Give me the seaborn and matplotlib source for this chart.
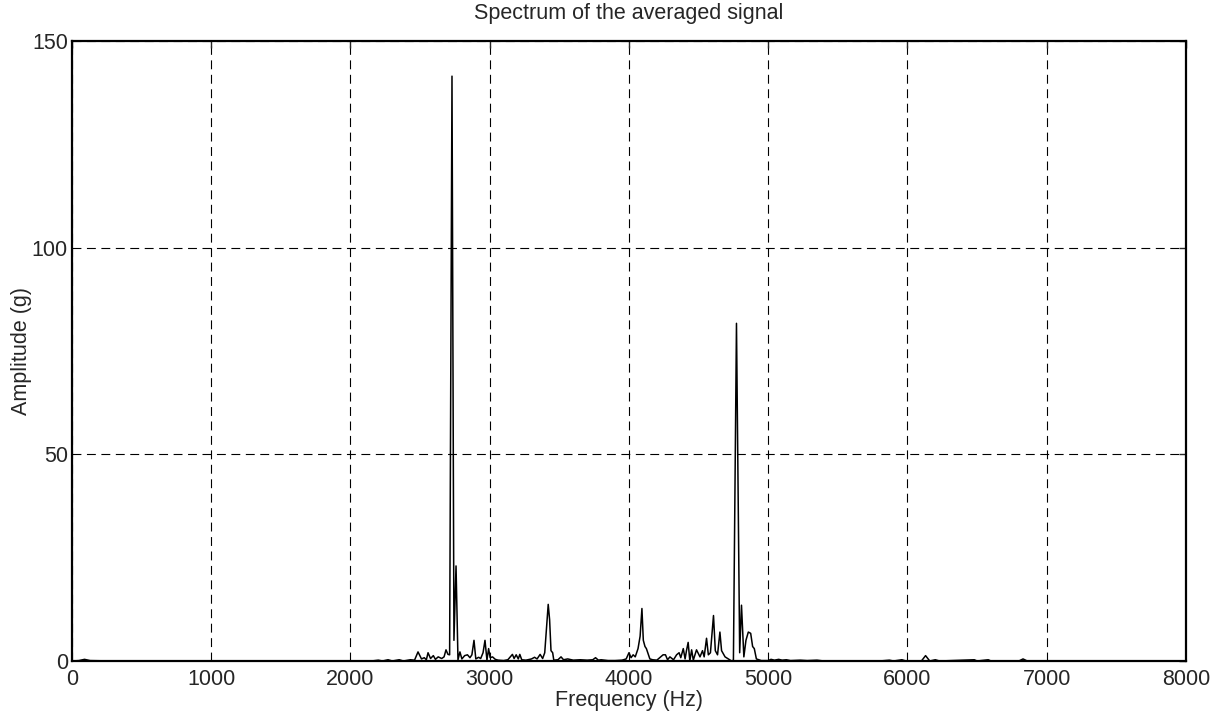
import numpy as np
import pandas as pd
import seaborn as sns
import matplotlib
matplotlib.use('Agg')
import matplotlib.pyplot as plt

# spectrum (Hz, g)
freq = [0, 50, 90, 130, 300, 2150, 2200, 2230, 2270, 2300, 2350, 2380, 2430, 2460,
        2485, 2510, 2530, 2545, 2557, 2575, 2595, 2610, 2630, 2655, 2672, 2686, 2700, 2712,
        2729, 2743, 2758, 2772, 2786, 2800, 2820, 2840, 2858, 2872, 2887, 2900, 2920, 2935,
        2952, 2966, 2980, 2992, 3003, 3020, 3040, 3060, 3100, 3130, 3163, 3175, 3190, 3205,
        3216, 3230, 3260, 3300, 3322, 3340, 3362, 3380, 3395, 3420, 3430, 3440, 3452, 3460,
        3490, 3512, 3530, 3560, 3600, 3650, 3700, 3740, 3760, 3780, 3800, 3850, 3900, 3950,
        3980, 4000, 4015, 4030, 4045, 4065, 4080, 4093, 4103, 4115, 4125, 4150, 4170, 4200,
        4245, 4262, 4277, 4294, 4320, 4342, 4360, 4372, 4390, 4403, 4413, 4425, 4437, 4450,
        4462, 4485, 4510, 4528, 4540, 4557, 4570, 4585, 4607, 4620, 4636, 4653, 4665, 4690,
        4713, 4737, 4750, 4772, 4795, 4808, 4825, 4840, 4857, 4874, 4888, 4900, 4915, 4950,
        5000, 5020, 5045, 5075, 5100, 5130, 5160, 5230, 5280, 5350, 5400, 5800, 5870, 5900,
        5960, 5990, 6100, 6130, 6160, 6200, 6230, 6480, 6500, 6580, 6600, 6800, 6830, 6860,
        8000]
amp = [0, 0.1, 0.4, 0.1, 0, 0, 0.2, 0, 0.3, 0, 0.3, 0, 0.3, 0.2,
       2.2, 0.5, 0.8, 0.3, 2.0, 0.6, 1.3, 0.4, 1.0, 0.6, 1.0, 2.7, 1.6, 1.5,
       141.5, 5.0, 23.0, 0.3, 2.2, 0.5, 1.3, 1.5, 0.8, 1.5, 5.0, 0.5, 0.9, 0.6,
       2.0, 5.0, 0.2, 3.0, 0.8, 1.0, 0.4, 0.2, 0.1, 0.3, 1.6, 0.6, 1.5, 0.5,
       1.6, 0.3, 0.2, 0.5, 0.9, 0.5, 1.6, 0.6, 2.0, 13.7, 10.0, 2.5, 2.0, 0.2,
       0.3, 1.0, 0.3, 0.5, 0.2, 0.3, 0.2, 0.3, 0.8, 0.2, 0.3, 0.1, 0.1, 0.2,
       0.5, 2.0, 0.8, 1.5, 1.0, 3.0, 6.0, 12.7, 5.0, 3.5, 3.0, 0.5, 0.3, 0.2,
       1.5, 1.5, 0.3, 1.0, 0.3, 1.5, 2.0, 0.8, 3.0, 0.5, 2.5, 4.5, 0.0, 2.7,
       0.2, 2.7, 1.0, 2.5, 1.0, 5.5, 1.5, 2.0, 11.0, 2.5, 1.5, 7.0, 2.5, 1.0,
       0.5, 0.0, 0.2, 81.7, 2.0, 13.5, 1.0, 5.0, 7.0, 6.7, 3.5, 3.0, 0.5, 0.1,
       0.1, 0.4, 0.2, 0.4, 0.2, 0.3, 0.1, 0.2, 0.1, 0.2, 0, 0, 0.2, 0,
       0.3, 0, 0, 1.3, 0, 0.3, 0, 0.3, 0, 0.3, 0, 0, 0.5, 0,
       0]

xticks = [0, 1000, 2000, 3000, 4000, 5000, 6000, 7000, 8000]
yticks = [0, 50, 100, 150]

sns.set_style('white')
plt.rcParams['font.family'] = ['Liberation Sans', 'DejaVu Sans']

df = pd.DataFrame({'Frequency (Hz)': freq, 'Amplitude (g)': amp})

fig = plt.figure(figsize=(12.18, 7.17), dpi=100)
ax = fig.add_axes([0.0591, 0.0781, 0.9146, 0.8647])
sns.lineplot(data=df, x='Frequency (Hz)', y='Amplitude (g)', color='black',
             linewidth=1.1, estimator=None, ax=ax)

ax.set_xlim(0, 8000)
ax.set_ylim(0, 150)
ax.set_xticks(xticks)
ax.set_yticks(yticks)
ax.grid(True, color='black', linestyle=(0, (8, 5)), linewidth=0.8)
ax.tick_params(direction='in', length=5, width=1, top=True, right=True,
               labelsize=15.5)
ax.tick_params(axis='x', pad=6)
ax.tick_params(axis='y', pad=3)
for s in ax.spines.values():
    s.set_visible(True)
    s.set_color('black')
    s.set_linewidth(1.6)
ax.set_xlabel('Frequency (Hz)', fontsize=15.5, labelpad=0)
ax.set_ylabel('Amplitude (g)', fontsize=15.5, labelpad=0)
ax.set_title('Spectrum of the averaged signal', fontsize=15.5, pad=16)

fig.savefig('out.png', dpi=100)
